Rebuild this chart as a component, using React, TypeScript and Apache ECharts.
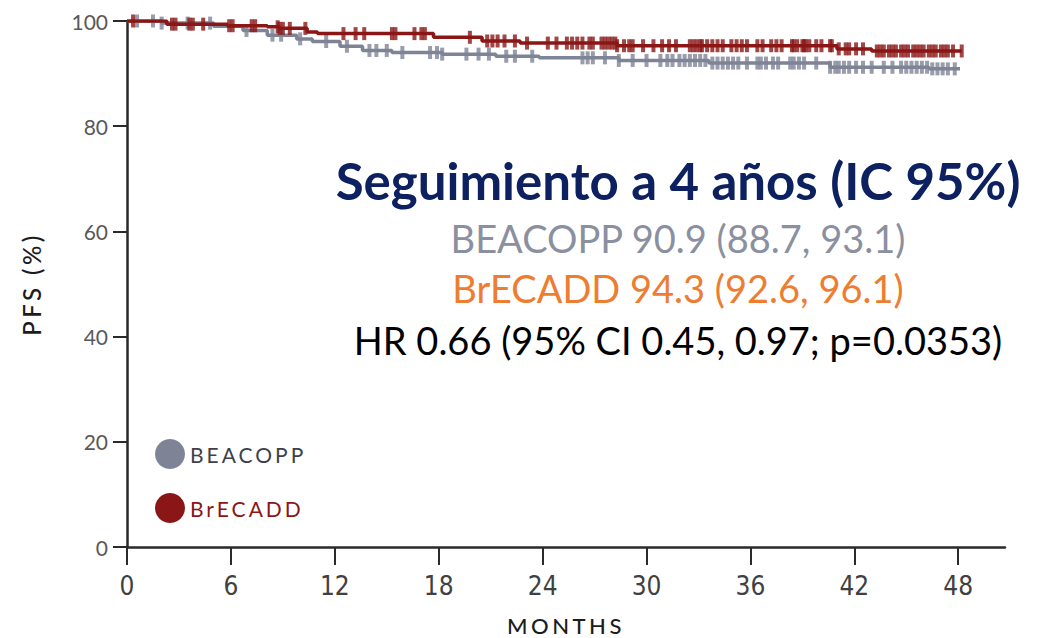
import React, { useEffect, useRef } from "react";
import * as echarts from "echarts";

// ---- Data ----
const xTicks = [0, 6, 12, 18, 24, 30, 36, 42, 48];
const yTicks = [0, 20, 40, 60, 80, 100];

// BEACOPP Kaplan-Meier steps (months, PFS %)
const beacoppTimes = [0, 2.0, 5.0, 6.7, 8.1, 9.8, 10.7, 12.3, 13.6, 15.3, 18.2, 21.3, 23.8, 28.4, 33.6, 40.6, 46.3];
const beacoppSurv = [100, 99.6, 99.0, 98.2, 97.3, 96.6, 96.1, 95.2, 94.4, 94.0, 93.7, 93.3, 93.0, 92.5, 92.0, 91.2, 90.9];
const beacoppLastFollowUp = 48.1;
const beacoppCensor = [
  0.58, 1.5, 2.0, 3.5, 4.8, 6.9, 8.4, 8.9, 10.0, 11.5, 12.7, 14.0, 14.4, 15.0, 15.9, 17.5, 17.9, 18.2,
  19.6, 20.3, 20.9, 21.9, 22.4, 23.4, 26.3, 26.6, 26.9, 27.6, 28.4, 29.2, 30.0, 30.8, 31.2, 31.5,
  31.9, 32.2, 32.5, 32.8, 33.1, 33.4, 33.8, 34.1, 34.4, 34.7, 35.0, 35.3, 35.8, 36.4, 36.6, 36.9,
  37.3, 37.6, 38.3, 38.5, 38.8, 39.1, 39.8, 40.6, 40.9, 41.1, 41.4, 41.7, 42.1, 42.5, 43.0, 43.7,
  44.2, 44.7, 45.0, 45.3, 45.6, 45.9, 46.2, 46.5, 46.8, 47.1, 47.4, 47.8,
];

// BrECADD Kaplan-Meier steps (months, PFS %)
const brecaddTimes = [0, 2.3, 5.8, 8.1, 8.8, 10.4, 11.0, 17.7, 20.5, 22.7, 28.3, 41.0, 43.0];
const brecaddSurv = [100, 99.4, 99.1, 98.9, 98.6, 97.9, 97.6, 96.9, 96.2, 95.8, 95.3, 94.7, 94.3];
const brecaddLastFollowUp = 48.2;
const brecaddCensor = [
  0.35, 2.6, 2.8, 3.6, 3.8, 4.4, 5.9, 6.1, 7.2, 7.4, 8.7, 8.8, 9.0, 9.4, 10.3, 12.5, 13.2, 13.7,
  15.3, 15.5, 16.6, 17.0, 17.2, 19.8, 20.8, 21.1, 21.4, 21.8, 22.4, 23.1, 24.3, 24.8, 25.4, 25.7,
  26.0, 26.3, 26.7, 26.9, 27.4, 27.6, 27.8, 28.0, 28.2, 28.3, 28.7, 29.0, 29.2, 29.8, 30.4, 30.9,
  31.3, 31.7, 32.5, 32.7, 32.9, 33.1, 33.2, 33.5, 33.8, 34.1, 34.4, 34.9, 35.2, 35.5, 35.8, 36.4,
  36.7, 37.2, 37.5, 37.8, 38.4, 38.5, 38.7, 39.0, 39.1, 39.2, 39.4, 39.8, 40.1, 40.6, 40.7, 41.1,
  41.5, 41.7, 42.1, 42.5, 43.3, 43.5, 43.7, 44.0, 44.2, 44.4, 44.7, 44.9, 45.1, 45.4, 45.6, 45.8,
  46.0, 46.3, 46.5, 46.7, 47.0, 47.2, 47.4, 47.7, 48.2,
];

const seriesNames = ["BEACOPP", "BrECADD"];
const titleText = "Seguimiento a 4 años (IC 95%)";
const beacoppText = "BEACOPP 90.9 (88.7, 93.1)";
const brecaddText = "BrECADD 94.3 (92.6, 96.1)";
const hrText = "HR 0.66 (95% CI 0.45, 0.97; p=0.0353)";

// ---- Styles ----
const GRAY = "#7e8396";
const RED = "#8a1616";
const SPACED = "#1c1c1c";
const LEGEND_GRAY_TXT = "#3f3f4a";
const LEGEND_RED_TXT = "#8a1617";

function survAt(times: number[], surv: number[], t: number) {
  let v = surv[0];
  for (let i = 0; i < times.length; i++) if (times[i] <= t) v = surv[i];
  return v;
}
function stepData(times: number[], surv: number[], end: number) {
  const d = times.map((t, i) => [t, surv[i]]);
  d.push([end, surv[surv.length - 1]]);
  return d;
}
function censorData(times: number[], surv: number[], cens: number[]) {
  return cens.map((c) => [c, survAt(times, surv, c)]);
}

export default function App() {
  const ref = useRef<HTMLDivElement>(null);
  useEffect(() => {
    document.body.style.margin = "0";
    const chart = echarts.init(ref.current!, null, { renderer: "svg" });
    const option: any = {
      animation: false,
      backgroundColor: "#ffffff",
      grid: { left: 127, right: 46, top: 21, bottom: 91, outerBoundsMode: "none", containLabel: false },
      xAxis: {
        type: "value",
        min: 0,
        max: 50.7,
        interval: 6,
        name: "MONTHS",
        nameLocation: "middle",
        nameGap: 78,
        nameTextStyle: { color: SPACED, fontSize: 22, fontFamily: "Lato", fontWeight: 500, verticalAlign: "middle", lineHeight: 22 },
        axisLine: { show: true, lineStyle: { color: "#2a2a2a", width: 2.5 } },
        axisTick: { show: true, length: 18, lineStyle: { color: "#2a2a2a", width: 2 }, customValues: xTicks },
        axisLabel: {
          customValues: xTicks,
          margin: 26,
          color: "#404040",
          fontSize: 26,
          fontFamily: "Liberation Sans Narrow, DejaVu Sans Condensed, sans-serif",
        },
        splitLine: { show: false },
      },
      yAxis: {
        type: "value",
        min: 0,
        max: 100,
        interval: 20,
        name: "PFS (%)",
        nameLocation: "middle",
        nameGap: 84,
        nameTextStyle: { color: SPACED, fontSize: 24, fontFamily: "Lato", fontWeight: 500 },
        axisLine: { show: true, lineStyle: { color: "#2a2a2a", width: 2.5 } },
        axisTick: { show: true, length: 14, lineStyle: { color: "#2a2a2a", width: 2 } },
        axisLabel: { margin: 19, color: "#595959", fontSize: 21, fontFamily: "Lato" },
        splitLine: { show: false },
      },
      series: [
        {
          name: seriesNames[0],
          type: "line",
          step: "end",
          symbol: "none",
          z: 2,
          lineStyle: { color: GRAY, width: 3.5 },
          data: stepData(beacoppTimes, beacoppSurv, beacoppLastFollowUp),
        },
        {
          name: seriesNames[0] + " censored",
          type: "scatter",
          symbol: "rect",
          symbolSize: [4, 13],
          z: 2,
          itemStyle: { color: GRAY },
          data: censorData(beacoppTimes, beacoppSurv, beacoppCensor),
        },
        {
          name: seriesNames[1],
          type: "line",
          step: "end",
          symbol: "none",
          z: 3,
          lineStyle: { color: RED, width: 3.5 },
          data: stepData(brecaddTimes, brecaddSurv, brecaddLastFollowUp),
        },
        {
          name: seriesNames[1] + " censored",
          type: "scatter",
          symbol: "rect",
          symbolSize: [4, 13],
          z: 3,
          itemStyle: { color: RED },
          data: censorData(brecaddTimes, brecaddSurv, brecaddCensor),
        },
      ],
      graphic: [
        {
          type: "text", x: 678, y: 180,
          style: { text: titleText, align: "center", verticalAlign: "middle", fill: "#0d2160",
            fontSize: 51, fontWeight: "bold", fontFamily: "Lato" },
        },
        {
          type: "text", x: 678, y: 238,
          style: { text: beacoppText, align: "center", verticalAlign: "middle", fill: "#8b90a1",
            fontSize: 38, fontFamily: "Lato" },
        },
        {
          type: "text", x: 678, y: 288,
          style: { text: brecaddText, align: "center", verticalAlign: "middle", fill: "#ed7d31",
            fontSize: 38, fontFamily: "Lato" },
        },
        {
          type: "text", x: 678, y: 340,
          style: { text: hrText, align: "center", verticalAlign: "middle", fill: "#000000",
            fontSize: 38, fontFamily: "Lato" },
        },
        { type: "circle", shape: { cx: 170, cy: 454, r: 15 }, style: { fill: GRAY } },
        { type: "circle", shape: { cx: 170, cy: 508, r: 15 }, style: { fill: RED } },
        {
          type: "text", x: 190, y: 454,
          style: { text: seriesNames[0], align: "left", verticalAlign: "middle", fill: LEGEND_GRAY_TXT,
            fontSize: 21, fontFamily: "Lato" },
        },
        {
          type: "text", x: 190, y: 508,
          style: { text: seriesNames[1], align: "left", verticalAlign: "middle", fill: LEGEND_RED_TXT,
            fontSize: 21, fontFamily: "Lato" },
        },
      ],
    };
    chart.setOption(option);
    return () => chart.dispose();
  }, []);
  return (
    <>
      <style>{`
        text[fill="${LEGEND_GRAY_TXT}"], text[fill="${LEGEND_RED_TXT}"] { letter-spacing: 3px; }
        text[fill="${SPACED}"] { letter-spacing: 3.5px; }
      `}</style>
      <div ref={ref} style={{ width: 1051, height: 638 }} />
    </>
  );
}
